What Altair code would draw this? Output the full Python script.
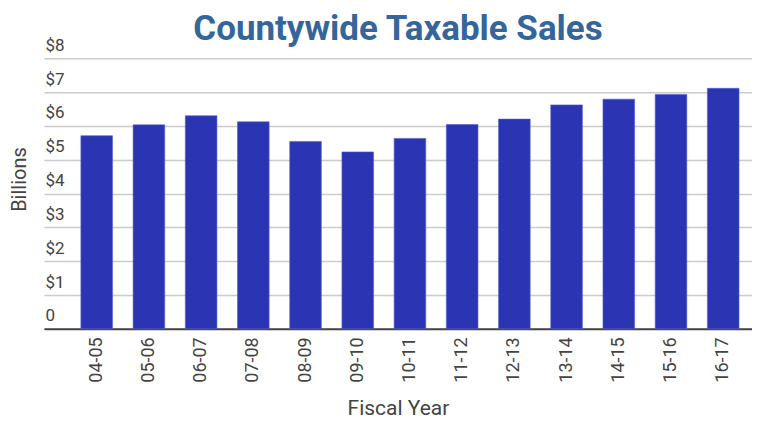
import altair as alt
import pandas as pd

years = ["04-05", "05-06", "06-07", "07-08", "08-09", "09-10", "10-11",
         "11-12", "12-13", "13-14", "14-15", "15-16", "16-17"]
sales = [5.71, 6.03, 6.30, 6.12, 5.54, 5.23, 5.63, 6.04, 6.20, 6.62, 6.79, 6.93, 7.11]
y_ticks = [0, 1, 2, 3, 4, 5, 6, 7, 8]

df = pd.DataFrame({"year": years, "sales": sales})

chart = alt.Chart(df).mark_bar(color="#2b34b3", stroke="#5560d0", strokeWidth=0.6).encode(
    x=alt.X("year:N", sort=years, title="Fiscal Year",
            scale=alt.Scale(paddingInner=0.394, paddingOuter=0.478, align=0.74),
            axis=alt.Axis(labelAngle=-90, labelAlign="right", labelBaseline="middle",
                          labelPadding=8, ticks=False, domainColor="#444444", domainWidth=2,
                          labelFontSize=18, labelColor="#444444", labelFont="Roboto",
                          titleFontSize=21, titleColor="#444444", titleFont="Roboto",
                          titleFontWeight="normal", titlePadding=15)),
    y=alt.Y("sales:Q", title="Billions",
            scale=alt.Scale(domain=[0, 8], nice=False),
            axis=alt.Axis(values=y_ticks, labelExpr="datum.value == 0 ? '0' : '$' + datum.value",
                          labelAlign="left", labelBaseline="bottom", labelPadding=-1,
                          labelOffset=-4, ticks=False, domain=False,
                          gridColor="#cccccc", gridWidth=1.5,
                          labelFontSize=17, labelColor="#444444", labelFont="Roboto",
                          titleFontSize=20, titleColor="#444444", titleFont="Roboto",
                          titleFontWeight="normal", titleX=-24, titleY=121,
                          titleBaseline="middle", titleAngle=-90)),
).properties(
    width=709, height=271,
    title=alt.Title("Countywide Taxable Sales", fontSize=35, font="Roboto",
                    fontWeight="bold", color="#34659b", anchor="middle", offset=-11),
    autosize=alt.AutoSizeParams(type="none"),
    padding={"left": 36, "top": 50, "right": 0, "bottom": 90},
).configure_view(stroke=None)

chart.save("out.html", embed_options={"renderer": "svg", "actions": False})
